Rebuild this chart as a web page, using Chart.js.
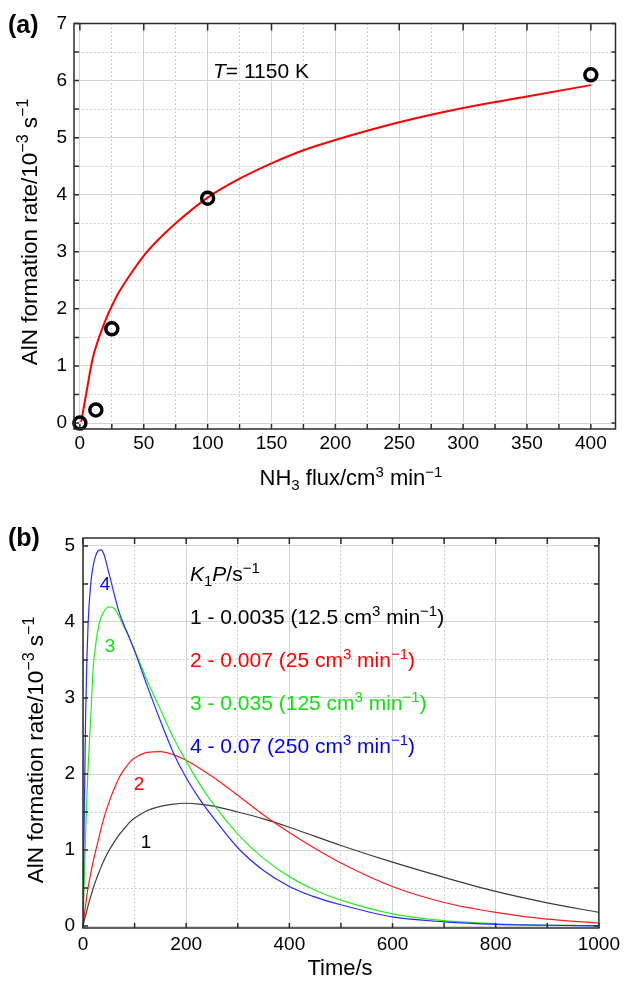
<!DOCTYPE html>
<html>
<head>
<meta charset="utf-8">
<script src="https://cdn.jsdelivr.net/npm/chart.js@4"></script>
<style>
  body { margin: 0; background: #fff; width: 625px; height: 983px; position: relative; overflow: hidden; }
  canvas { position: absolute; left: 0; }
  #chartA { top: 0; }
  #chartB { top: 495px; }
</style>
</head>
<body>
<canvas id="chartA" width="625" height="495"></canvas>
<canvas id="chartB" width="625" height="488"></canvas>
<script>
// ---------- (a) AlN formation rate vs NH3 flux, T = 1150 K ----------
const fluxMeasured = [0, 12.5, 25, 100, 400];
const rateMeasured = [0, 0.23, 1.65, 3.94, 6.1];
const fluxFit = [1, 5, 10, 15, 20, 25, 30, 40, 50, 60, 75, 100, 125, 150, 175, 200, 250, 300, 350, 400];
const rateFit = [0.02, 0.52, 1.13, 1.5, 1.8, 2.05, 2.27, 2.62, 2.93, 3.18, 3.5, 3.95, 4.28, 4.55, 4.78, 4.96, 5.27, 5.52, 5.72, 5.92];
const fluxGrid = [0, 25, 50, 75, 100, 125, 150, 175, 200, 225, 250, 275, 300, 325, 350, 375, 400];
const fluxLabels = [0, 50, 100, 150, 200, 250, 300, 350, 400];
const rateGridA = [0, 0.5, 1, 1.5, 2, 2.5, 3, 3.5, 4, 4.5, 5, 5.5, 6, 6.5, 7];
const rateLabelsA = [0, 1, 2, 3, 4, 5, 6, 7];

// ---------- (b) AlN formation rate vs time for four K1P values ----------
const time = [0, 2.5, 5, 7.5, 10, 15, 20, 25, 30, 35, 40, 50, 60, 70, 80, 90, 100, 125, 150, 175, 200, 225, 250, 300, 350, 400, 450, 500, 600, 700, 800, 900, 1000];
const rate1 = [0, 0.07, 0.14, 0.205, 0.27, 0.39, 0.5, 0.6, 0.69, 0.775, 0.855, 0.99, 1.1, 1.2, 1.28, 1.36, 1.42, 1.52, 1.575, 1.605, 1.615, 1.605, 1.58, 1.5, 1.41, 1.3, 1.18, 1.06, 0.84, 0.64, 0.455, 0.305, 0.18];
const rate2 = [0, 0.14, 0.27, 0.4, 0.51, 0.69, 0.86, 1.0, 1.14, 1.28, 1.41, 1.62, 1.8, 1.95, 2.06, 2.15, 2.21, 2.285, 2.295, 2.255, 2.18, 2.08, 1.97, 1.72, 1.46, 1.23, 1.02, 0.83, 0.52, 0.31, 0.18, 0.09, 0.04];
const rate3 = [0, 0.6, 1.2, 1.7, 2.1, 2.75, 3.42, 3.72, 3.94, 4.06, 4.13, 4.2, 4.18, 4.07, 3.93, 3.79, 3.63, 3.22, 2.85, 2.48, 2.17, 1.88, 1.63, 1.21, 0.89, 0.65, 0.47, 0.34, 0.16, 0.07, 0.03, 0.012, 0.005];
const rate4 = [0, 1.5, 2.75, 3.5, 4.0, 4.5, 4.75, 4.88, 4.94, 4.95, 4.9, 4.65, 4.38, 4.13, 3.95, 3.79, 3.62, 3.15, 2.7, 2.28, 1.95, 1.68, 1.45, 1.03, 0.73, 0.52, 0.38, 0.28, 0.12, 0.055, 0.022, 0.01, 0.003];
const timeGrid = [0, 100, 200, 300, 400, 500, 600, 700, 800, 900, 1000];
const timeLabels = [0, 200, 400, 600, 800, 1000];
const rateGridB = [0, 0.5, 1, 1.5, 2, 2.5, 3, 3.5, 4, 4.5, 5];
const rateLabelsB = [0, 1, 2, 3, 4, 5];
const curveLabels = ['1', '2', '3', '4'];
const kValues = ['0.0035', '0.007', '0.035', '0.07'];
const fluxValues = ['12.5', '25', '125', '250'];

const FONT = '"Liberation Sans", Arial, Helvetica, sans-serif';
const curveColors = ['#3c3c3c', '#ff1a1a', '#22ee22', '#2a2aff'];
const textColors = ['#000000', '#ff0000', '#12e012', '#0000ff'];

const xy = (xs, ys) => xs.map((x, i) => ({ x, y: ys[i] }));

// draws a run of text pieces: [text, kind] with kind '', 'i', 'b', 'sup', 'sub'
function drawParts(ctx, parts, x, y, size, align) {
  const fontOf = k => (k === 'i' ? 'italic ' : k === 'b' ? 'bold ' : '') +
    (k === 'sup' || k === 'sub' ? Math.round(size * 0.7) : size) + 'px ' + FONT;
  let w = 0;
  for (const [t, k] of parts) { ctx.font = fontOf(k); w += ctx.measureText(t).width; }
  let cx = align === 'center' ? x - w / 2 : x;
  for (const [t, k] of parts) {
    ctx.font = fontOf(k);
    const dy = k === 'sup' ? -0.38 * size : k === 'sub' ? 0.24 * size : 0;
    ctx.fillText(t, cx, y + dy);
    cx += ctx.measureText(t).width;
  }
}

// frame, inward ticks and all the annotation text
function framePlugin(cfg) {
  return {
    id: 'frame' + cfg.name,
    afterDraw(chart) {
      const { ctx, chartArea: a } = chart;
      const xs = chart.scales.x, ys = chart.scales.y;
      ctx.save();
      ctx.strokeStyle = '#2b2b2b';
      ctx.lineWidth = 1.5;
      ctx.beginPath();
      cfg.ticks.bottom.forEach(v => { const p = xs.getPixelForValue(v); ctx.moveTo(p, a.bottom); ctx.lineTo(p, a.bottom - cfg.len.bottom); });
      cfg.ticks.top.forEach(v => { const p = xs.getPixelForValue(v); ctx.moveTo(p, a.top); ctx.lineTo(p, a.top + cfg.len.top); });
      cfg.ticks.left.forEach(v => { const p = ys.getPixelForValue(v); ctx.moveTo(a.left, p); ctx.lineTo(a.left + cfg.len.left, p); });
      cfg.ticks.right.forEach(v => { const p = ys.getPixelForValue(v); ctx.moveTo(a.right, p); ctx.lineTo(a.right - cfg.len.right, p); });
      ctx.stroke();
      ctx.strokeRect(a.left, a.top, a.right - a.left, a.bottom - a.top);

      ctx.textAlign = 'left';
      ctx.textBaseline = 'alphabetic';
      cfg.texts.forEach(t => {
        ctx.save();
        ctx.fillStyle = t.color || '#000';
        if (t.rotate) {
          ctx.translate(t.x, t.y);
          ctx.rotate(-Math.PI / 2);
          drawParts(ctx, t.parts, 0, 0, t.size, t.align);
        } else {
          drawParts(ctx, t.parts, t.x, t.y, t.size, t.align);
        }
        ctx.restore();
      });
      ctx.restore();
    }
  };
}

function axis(min, max, grid, labels, major, pad, fit) {
  return {
    type: 'linear', min, max,
    afterBuildTicks: s => { s.ticks = grid.map(v => ({ value: v })); },
    afterFit: fit,
    ticks: {
      autoSkip: false, maxRotation: 0, padding: pad, color: '#000',
      font: { family: FONT, size: 19 },
      callback: v => labels.includes(v) ? String(v) : ''
    },
    grid: {
      drawTicks: false, lineWidth: 1,
      color: c => (c.tick && major.includes(c.tick.value)) ? '#d3d3d3' : '#c2c2c2'
    },
    border: {
      display: false,
      dash: c => (c.tick && !major.includes(c.tick.value)) ? [1.5, 2.5] : []
    }
  };
}

const yTitle = [['AlN formation rate/10', ''], ['\u22123', 'sup'], [' s', ''], ['\u22121', 'sup']];

new Chart(document.getElementById('chartA'), {
  type: 'scatter',
  data: {
    datasets: [
      {
        data: xy(fluxMeasured, rateMeasured),
        pointRadius: 6, pointBorderWidth: 3.5, pointBorderColor: '#000',
        pointBackgroundColor: 'rgba(0,0,0,0)', showLine: false, clip: false
      },
      {
        data: xy(fluxFit, rateFit),
        showLine: true, borderColor: '#ff0000', borderWidth: 2, pointRadius: 0,
        tension: 0.3, cubicInterpolationMode: 'monotone'
      }
    ]
  },
  options: {
    responsive: false, animation: false, devicePixelRatio: 1,
    layout: { padding: { left: 0, right: 1, top: 23.5, bottom: 0 } },
    plugins: { legend: { display: false }, tooltip: { enabled: false } },
    scales: {
      x: axis(-4.6, 419.3, fluxGrid, fluxLabels, fluxLabels, 3, s => { s.height = 66; }),
      y: axis(-0.105, 7, rateGridA, rateLabelsA, rateLabelsA, 7, s => { s.width = 74; })
    }
  },
  plugins: [framePlugin({
    name: 'A',
    ticks: { bottom: fluxGrid, top: fluxLabels, left: rateGridA, right: rateGridA },
    len: { bottom: 5, top: 7, left: 5, right: 4 },
    texts: [
      { parts: [['(a)', 'b']], x: 8, y: 33, size: 25 },
      { parts: [['T', 'i'], ['= 1150 K', '']], x: 213, y: 78, size: 21 },
      { parts: yTitle, x: 37, y: 232, size: 22.5, align: 'center', rotate: true },
      { parts: [['NH', ''], ['3', 'sub'], [' flux/cm', ''], ['3', 'sup'], [' min', ''], ['\u22121', 'sup']], x: 351, y: 485, size: 22, align: 'center' }
    ]
  })]
});

const seriesB = [rate1, rate2, rate3, rate4];
const legendTexts = curveLabels.map((c, i) => ({
  parts: [[c + ' - ' + kValues[i] + ' (' + fluxValues[i] + ' cm', ''], ['3', 'sup'], [' min', ''], ['\u22121', 'sup'], [')', '']],
  x: 190, y: 129 + 43 * i, size: 21, color: textColors[i]
}));
const curveTags = [[146, 353], [139, 295], [110, 157], [105, 95]].map((p, i) => ({
  parts: [[curveLabels[i], '']], x: p[0], y: p[1], size: 19, align: 'center', color: textColors[i]
}));

new Chart(document.getElementById('chartB'), {
  type: 'scatter',
  data: {
    datasets: seriesB.map((s, i) => ({
      data: xy(time, s),
      showLine: true, borderColor: curveColors[i], borderWidth: 1.2, pointRadius: 0,
      tension: 0.4, cubicInterpolationMode: 'monotone', order: 4 - i
    }))
  },
  options: {
    responsive: false, animation: false, devicePixelRatio: 1,
    layout: { padding: { left: 0, right: 22, top: 43, bottom: 0 } },
    plugins: { legend: { display: false }, tooltip: { enabled: false } },
    scales: {
      x: axis(0, 1000, timeGrid, timeLabels, timeLabels, 5, s => { s.height = 55; }),
      y: axis(-0.026, 5.105, rateGridB, rateLabelsB, rateLabelsB, 8, s => { s.width = 83; })
    }
  },
  plugins: [framePlugin({
    name: 'B',
    ticks: { bottom: timeGrid, top: timeGrid, left: rateGridB, right: rateGridB },
    len: { bottom: 5, top: 6, left: 5, right: 5 },
    texts: [
      { parts: [['(b)', 'b']], x: 8, y: 51, size: 25 },
      { parts: yTitle, x: 43, y: 255, size: 22.5, align: 'center', rotate: true },
      { parts: [['Time/s', '']], x: 340, y: 480, size: 22, align: 'center' },
      { parts: [['K', 'i'], ['1', 'sub'], ['P', 'i'], ['/s', ''], ['\u22121', 'sup']], x: 190, y: 86, size: 21 },
      ...legendTexts,
      ...curveTags
    ]
  })]
});
</script>
</body>
</html>
